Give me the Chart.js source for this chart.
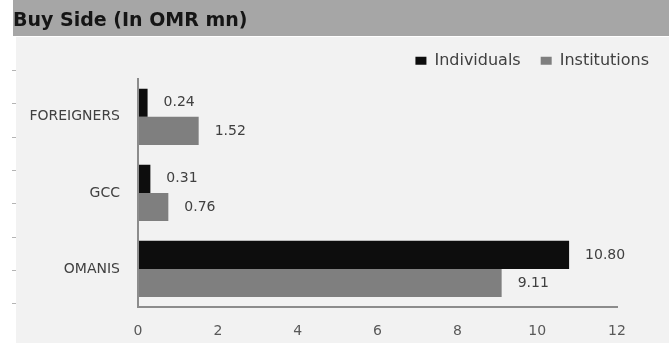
<!DOCTYPE html>
<html>
<head>
<meta charset="utf-8">
<title>Buy Side (In OMR mn)</title>
<script src="https://cdn.jsdelivr.net/npm/chart.js@4"></script>
<style>
  html, body { margin: 0; padding: 0; background: #ffffff; }
  canvas { display: block; }
</style>
</head>
<body>
<canvas id="chart" width="669" height="343"></canvas>
<script>
// Buy-side traded value by investor type, OMR million
const categories = ['FOREIGNERS', 'GCC', 'OMANIS'];
const individuals = [0.24, 0.31, 10.80];
const institutions = [1.52, 0.76, 9.11];
const xTicks = [0, 2, 4, 6, 8, 10, 12];

const TEXT = '#404040';
const AXIS = '#8c8c8c';

// Header band, panel background and the small side marks
const backdrop = {
  id: 'backdrop',
  beforeDraw(chart) {
    const ctx = chart.ctx;
    ctx.save();
    ctx.fillStyle = '#ffffff';
    ctx.fillRect(0, 0, chart.width, chart.height);
    ctx.fillStyle = '#a6a6a6';
    ctx.fillRect(13, 0, chart.width - 13, 36);
    ctx.fillStyle = '#f2f2f2';
    ctx.fillRect(16, 37, chart.width - 16, chart.height - 37);
    ctx.strokeStyle = '#b4b4b4';
    ctx.lineWidth = 1;
    for (let i = 0; i < 8; i++) {
      const y = Math.round(70 + i * 33.3) + 0.5;
      ctx.beginPath();
      ctx.moveTo(12, y);
      ctx.lineTo(16, y);
      ctx.stroke();
    }
    ctx.restore();
  }
};

// Value labels to the right of each bar
const barValues = {
  id: 'barValues',
  afterDatasetsDraw(chart) {
    const ctx = chart.ctx;
    ctx.save();
    ctx.font = "14px 'DejaVu Sans', sans-serif";
    ctx.fillStyle = TEXT;
    ctx.textAlign = 'left';
    ctx.textBaseline = 'middle';
    chart.data.datasets.forEach((ds, di) => {
      chart.getDatasetMeta(di).data.forEach((bar, i) => {
        ctx.fillText(ds.data[i].toFixed(2), bar.x + 16, bar.y);
      });
    });
    ctx.restore();
  }
};

Chart.defaults.font.family = "'DejaVu Sans', sans-serif";
Chart.defaults.color = TEXT;

new Chart(document.getElementById('chart'), {
  type: 'bar',
  data: {
    labels: categories,
    datasets: [
      { label: 'Individuals', data: individuals, backgroundColor: '#0d0d0d' },
      { label: 'Institutions', data: institutions, backgroundColor: '#7f7f7f' }
    ]
  },
  options: {
    indexAxis: 'y',
    responsive: false,
    animation: false,
    devicePixelRatio: 1,
    categoryPercentage: 0.74,
    barPercentage: 1,
    layout: { padding: { left: 13, right: 0, top: 0, bottom: 0 } },
    plugins: {
      title: {
        display: true,
        text: 'Buy Side (In OMR mn)',
        align: 'start',
        color: '#151515',
        font: { size: 19, weight: 'bold', lineHeight: 1.2 },
        padding: { top: 10, bottom: 0 }
      },
      legend: {
        display: true,
        position: 'top',
        align: 'end',
        labels: {
          boxWidth: 11,
          boxHeight: 8,
          padding: 20,
          color: TEXT,
          font: { size: 16 }
        }
      },
      tooltip: { enabled: false }
    },
    scales: {
      x: {
        min: 0,
        max: 12,
        afterBuildTicks(scale) {
          scale.ticks = xTicks.map(v => ({ value: v }));
        },
        grid: { display: false, drawTicks: false },
        border: { display: true, color: AXIS, width: 2, z: 1 },
        ticks: { padding: 16, color: '#595959', font: { size: 14 } },
        afterFit(scale) { scale.height = 36; }
      },
      y: {
        grid: { display: false, drawTicks: false },
        border: { display: true, color: AXIS, width: 2, z: 1 },
        ticks: { padding: 18, color: TEXT, font: { size: 14 } },
        afterFit(scale) { scale.width = 125; }
      },
      pad: {
        type: 'linear',
        position: 'right',
        display: true,
        grid: { display: false, drawTicks: false },
        border: { display: false },
        ticks: { display: false },
        afterFit(scale) { scale.width = 52; }
      }
    }
  },
  plugins: [backdrop, barValues]
});
</script>
</body>
</html>
